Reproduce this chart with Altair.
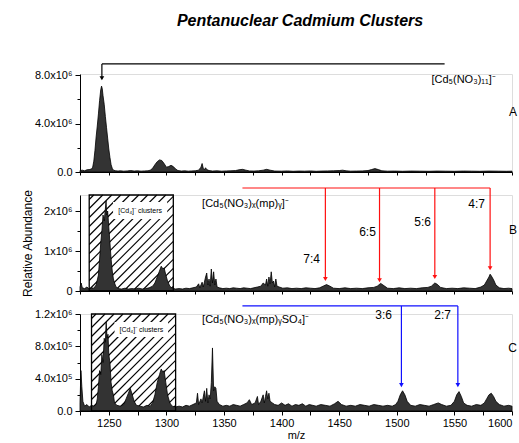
import altair as alt
import pandas as pd

# ---------------- data (intensities in units of 10^6) ----------------
A_MZ = [1225, 1227, 1229, 1231, 1233, 1235, 1236, 1237, 1238, 1239, 1240, 1241, 1242, 1243, 1243.7, 1244.3,
        1245, 1246, 1247, 1248, 1249, 1250, 1251, 1252, 1253, 1254, 1256, 1258, 1260, 1263, 1266, 1269, 1272,
        1275, 1278, 1281, 1284, 1286, 1288, 1290, 1292, 1294, 1296, 1298, 1300, 1302, 1304, 1306, 1308, 1310,
        1313, 1316, 1319, 1322, 1325, 1328, 1330, 1331, 1332, 1333, 1334, 1335, 1337, 1340, 1344, 1348, 1352,
        1356, 1360, 1363, 1366, 1369, 1372, 1376, 1380, 1384, 1387, 1390, 1394, 1400, 1405, 1410, 1415, 1420,
        1425, 1430, 1435, 1440, 1445, 1450, 1453, 1456, 1460, 1465, 1470, 1475, 1478, 1481, 1484, 1487, 1492,
        1498, 1505, 1512, 1520, 1528, 1535, 1542, 1550, 1558, 1565, 1572, 1580, 1588, 1595, 1600]
A_INT = [0.12, 0.15, 0.1, 0.18, 0.2, 0.25, 0.4, 0.9, 1.8, 2.9, 3.8, 4.8, 5.9, 6.8, 7.1, 6.9,
         6.3, 5.6, 4.6, 3.7, 2.8, 1.9, 1.2, 0.6, 0.3, 0.15, 0.1, 0.08, 0.1, 0.07, 0.09, 0.12, 0.08,
         0.1, 0.07, 0.09, 0.1, 0.15, 0.3, 0.6, 0.85, 1.0, 0.95, 0.7, 0.4, 0.45, 0.55, 0.45, 0.25, 0.12,
         0.08, 0.1, 0.07, 0.09, 0.1, 0.15, 0.4, 0.7, 0.3, 0.2, 0.35, 0.2, 0.12, 0.08, 0.1, 0.07, 0.09,
         0.1, 0.12, 0.18, 0.22, 0.15, 0.09, 0.08, 0.1, 0.15, 0.22, 0.15, 0.08, 0.07, 0.09, 0.06, 0.08, 0.07,
         0.09, 0.06, 0.08, 0.09, 0.1, 0.12, 0.15, 0.1, 0.07, 0.08, 0.09, 0.12, 0.2, 0.28, 0.2, 0.1, 0.07,
         0.08, 0.06, 0.08, 0.07, 0.06, 0.08, 0.07, 0.06, 0.08, 0.07, 0.06, 0.08, 0.07, 0.06, 0.07]

B_MZ = [1225, 1226, 1227, 1229, 1231, 1233, 1235, 1237, 1239, 1241, 1242, 1243, 1244, 1245, 1246, 1247,
        1247.6, 1248.2, 1249, 1250, 1251, 1252, 1253, 1254, 1255, 1256, 1258, 1261, 1264, 1267, 1270, 1273,
        1276, 1279, 1282, 1285, 1288, 1290, 1292, 1294, 1295.5, 1297, 1298, 1299.5, 1301, 1303, 1305, 1308,
        1311, 1314, 1317, 1320, 1323, 1326, 1328, 1329, 1331, 1332, 1334, 1335, 1336, 1337, 1338, 1339, 1340,
        1341, 1342, 1343, 1344, 1346, 1349, 1352, 1355, 1358, 1361, 1364, 1367, 1370, 1373, 1376, 1379, 1382,
        1384, 1386, 1387, 1388, 1389, 1390, 1391, 1392, 1393, 1394, 1395, 1396, 1398, 1401, 1405, 1409, 1413,
        1417, 1421, 1425, 1429, 1433, 1436, 1439, 1442, 1445, 1450, 1455, 1460, 1465, 1470, 1475, 1480, 1483,
        1486, 1489, 1492, 1497, 1502, 1507, 1512, 1517, 1522, 1527, 1530, 1533, 1535, 1538, 1543, 1548, 1553,
        1558, 1563, 1568, 1573, 1576, 1578, 1580, 1581, 1582, 1584, 1586, 1589, 1593, 1597, 1600]
B_INT = [0.1, 0.2, 0.08, 0.06, 0.1, 0.05, 0.08, 0.07, 0.15, 0.4, 0.8, 1.2, 1.5, 1.9, 1.75, 2.05,
         2.25, 1.9, 2.0, 1.6, 1.2, 0.8, 0.5, 0.3, 0.2, 0.12, 0.06, 0.05, 0.07, 0.05, 0.06, 0.05,
         0.07, 0.05, 0.06, 0.08, 0.12, 0.2, 0.35, 0.5, 0.62, 0.55, 0.58, 0.4, 0.25, 0.12, 0.07, 0.05,
         0.06, 0.05, 0.07, 0.06, 0.08, 0.1, 0.18, 0.08, 0.22, 0.1, 0.35, 0.45, 0.15, 0.3, 0.12, 0.55, 0.2,
         0.48, 0.15, 0.3, 0.1, 0.08, 0.06, 0.07, 0.06, 0.08, 0.07, 0.06, 0.08, 0.07, 0.06, 0.08, 0.1, 0.12,
         0.2, 0.15, 0.3, 0.12, 0.35, 0.18, 0.48, 0.2, 0.25, 0.1, 0.3, 0.12, 0.1, 0.07, 0.08, 0.06, 0.07,
         0.06, 0.08, 0.07, 0.06, 0.08, 0.12, 0.16, 0.12, 0.07, 0.06, 0.08, 0.06, 0.07, 0.06, 0.08, 0.09, 0.12,
         0.19, 0.13, 0.07, 0.06, 0.08, 0.06, 0.07, 0.06, 0.08, 0.09, 0.12, 0.2, 0.17, 0.09, 0.06, 0.07, 0.06,
         0.08, 0.07, 0.06, 0.1, 0.15, 0.25, 0.35, 0.42, 0.38, 0.28, 0.15, 0.08, 0.06, 0.07, 0.06]

C_MZ = [1225, 1225.8, 1226.6, 1227.5, 1229, 1231, 1233, 1235, 1237, 1239, 1240, 1241, 1242, 1243, 1244, 1245,
        1246, 1247, 1247.7, 1248.5, 1249.3, 1250, 1251, 1252, 1253, 1254, 1255, 1257, 1260, 1263, 1265, 1267,
        1268.6, 1270, 1272, 1274, 1277, 1280, 1283, 1286, 1288, 1290, 1292, 1294, 1295.5, 1297, 1298, 1299.5,
        1301, 1303, 1305, 1308, 1311, 1314, 1317, 1320, 1323, 1326, 1327, 1328, 1330, 1331, 1333, 1334, 1335,
        1336, 1337, 1338, 1339, 1340, 1341, 1342, 1343, 1344, 1346, 1349, 1352, 1355, 1358, 1361, 1364, 1367,
        1370, 1372, 1374, 1377, 1379, 1380, 1382, 1384, 1385, 1386, 1387, 1388, 1389, 1390, 1392, 1394, 1397,
        1400, 1403, 1406, 1409, 1412, 1415, 1418, 1421, 1424, 1427, 1430, 1434, 1438, 1442, 1446, 1449, 1452,
        1456, 1460, 1464, 1468, 1472, 1476, 1480, 1484, 1488, 1492, 1496, 1499, 1501, 1503, 1505, 1507, 1509,
        1512, 1516, 1520, 1524, 1528, 1532, 1536, 1539, 1543, 1547, 1550, 1552, 1554, 1556, 1558, 1561, 1565,
        1569, 1573, 1576, 1578, 1580, 1582, 1584, 1586, 1589, 1593, 1597, 1600]
C_INT = [0.1, 0.5, 0.3, 0.12, 0.06, 0.08, 0.05, 0.07, 0.06, 0.08, 0.15, 0.3, 0.5, 0.45, 0.7, 0.6,
         0.9, 0.85, 1.1, 0.9, 0.95, 0.7, 0.6, 0.35, 0.25, 0.2, 0.1, 0.07, 0.06, 0.08, 0.15, 0.22,
         0.28, 0.22, 0.12, 0.07, 0.06, 0.05, 0.07, 0.06, 0.1, 0.2, 0.35, 0.45, 0.52, 0.48, 0.5, 0.35,
         0.2, 0.1, 0.06, 0.05, 0.06, 0.05, 0.07, 0.06, 0.08, 0.1, 0.22, 0.08, 0.15, 0.1, 0.25, 0.12, 0.28,
         0.1, 0.2, 0.15, 0.35, 0.78, 0.25, 0.3, 0.28, 0.12, 0.08, 0.06, 0.07, 0.06, 0.08, 0.07, 0.06, 0.08,
         0.1, 0.14, 0.08, 0.1, 0.18, 0.08, 0.12, 0.2, 0.1, 0.18, 0.25, 0.15, 0.22, 0.12, 0.1, 0.08, 0.07,
         0.1, 0.07, 0.09, 0.06, 0.08, 0.07, 0.09, 0.06, 0.08, 0.07, 0.06, 0.08, 0.07, 0.06, 0.09, 0.12, 0.08,
         0.06, 0.07, 0.06, 0.08, 0.07, 0.06, 0.08, 0.07, 0.06, 0.07, 0.06, 0.08, 0.12, 0.2, 0.25, 0.2, 0.12,
         0.07, 0.06, 0.08, 0.07, 0.06, 0.08, 0.1, 0.08, 0.06, 0.07, 0.12, 0.2, 0.24, 0.18, 0.1, 0.07, 0.06,
         0.08, 0.07, 0.1, 0.15, 0.2, 0.22, 0.18, 0.12, 0.08, 0.06, 0.07, 0.06]

# annotation content
TITLE = "Pentanuclear Cadmium Clusters"
B_RATIOS = ["7:4", "6:5", "5:6", "4:7"]
B_RATIO_MZ = [1438, 1485, 1533, 1581]
B_ARROW_TIP = [0.3, 0.27, 0.35, 0.57]
C_RATIOS = ["3:6", "2:7"]
C_RATIO_MZ = [1504, 1553]
C_ARROW_TIP = [0.32, 0.32]

FONT = "Liberation Sans"
W = 432
X_DOMAIN = [1225, 1600]
H = {"A": 98, "B": 96, "C": 97}
Y_DOMAIN = {"A": [0, 8.1], "B": [0, 2.4], "C": [0, 1.2]}
Y_VALUES = {"A": [0, 2, 4, 6, 8], "B": [0, 0.5, 1, 1.5, 2], "C": [0, 0.2, 0.4, 0.6, 0.8, 1.0, 1.2]}
Y_LABELS = {
    "A": "datum.value == 8 ? '8.0x10⁶' : datum.value == 4 ? '4.0x10⁶' : datum.value == 0 ? '0.0' : ''",
    "B": "datum.value == 2 ? '2x10⁶' : datum.value == 1 ? '1x10⁶' : datum.value == 0 ? '0' : ''",
    "C": "datum.value == 1.2 ? '1.2x10⁶' : datum.value == 0.8 ? '8.0x10⁵' : datum.value == 0.4 ? '4.0x10⁵' : datum.value == 0 ? '0.0' : ''",
}
Y_MAJOR = {"A": "datum.value % 4 == 0", "B": "datum.value % 1 == 0", "C": "round(datum.value * 10) % 4 == 0"}


def xenc(field, panel):
    if panel == "C":
        ax = alt.Axis(values=list(range(1225, 1601, 25)),
                      labelExpr="datum.value % 50 == 0 ? format(datum.value, 'd') : ''",
                      title="m/z", titleFont=FONT, titleFontSize=11, titleFontWeight="normal",
                      titlePadding=1, labelFont=FONT, labelFontSize=11, labelPadding=2, labelFlush=True,
                      tickSize=4, domainColor="black", tickColor="black", grid=False, labelColor="black")
    else:
        ax = alt.Axis(values=list(range(1225, 1601, 25)), labels=False, title=None,
                      tickSize=3, domainColor="black", tickColor="black", grid=False)
    return alt.X(field, type="quantitative", scale=alt.Scale(domain=X_DOMAIN, nice=False, zero=False), axis=ax)


def yenc(field, panel):
    ax = alt.Axis(values=Y_VALUES[panel], labelExpr=Y_LABELS[panel], labelFont=FONT, labelFontSize=11,
                  labelColor="black", labelPadding=3, grid=False, domainColor="black", tickColor="black",
                  tickSize={"condition": {"test": Y_MAJOR[panel], "value": 5}, "value": 3},
                  title="Relative Abundance" if panel == "B" else None,
                  titleFont=FONT, titleFontSize=12, titleFontWeight="normal", titleX=-46)
    return alt.Y(field, type="quantitative", scale=alt.Scale(domain=Y_DOMAIN[panel], nice=False, zero=True), axis=ax)


def spectrum(mz, inten, panel):
    df = pd.DataFrame({"mz": mz, "v": inten})
    return alt.Chart(df).mark_area(fill="#333333", stroke="black", strokeWidth=0.8, interpolate="linear").encode(
        x=xenc("mz", panel), y=yenc("v", panel))


def hatch_layer(x1, x2, panel, step=9.0):
    sx = W / (X_DOMAIN[1] - X_DOMAIN[0])
    top = Y_DOMAIN[panel][1]
    sy = H[panel] / top
    X1 = (x1 - X_DOMAIN[0]) * sx
    X2 = (x2 - X_DOMAIN[0]) * sx
    Hp = top * sy
    rows = []
    c = X1 - Hp + step / 2
    while c < X2:
        lo = max(X1, c)
        hi = min(X2, c + Hp)
        if hi > lo:
            rows.append({"x": X_DOMAIN[0] + lo / sx, "y": (lo - c) / sy,
                         "x2": X_DOMAIN[0] + hi / sx, "y2": (hi - c) / sy})
        c += step
    df = pd.DataFrame(rows)
    rules = alt.Chart(df).mark_rule(color="black", strokeWidth=1.1).encode(
        x=xenc("x", panel), y=yenc("y", panel), x2="x2", y2="y2")
    box = alt.Chart(pd.DataFrame({"x": [x1], "x2": [x2], "y": [0], "y2": [top]})).mark_rect(
        fillOpacity=0, stroke="black", strokeWidth=1.3).encode(
        x=xenc("x", panel), x2="x2", y=yenc("y", panel), y2="y2")
    return rules, box


def box_label(x1, x2, y1, y2, panel):
    bg = alt.Chart(pd.DataFrame({"x": [x1], "x2": [x2], "y": [y1], "y2": [y2]})).mark_rect(
        fill="white").encode(x=xenc("x", panel), x2="x2", y=yenc("y", panel), y2="y2")
    tx = alt.Chart(pd.DataFrame({"x": [(x1 + x2) / 2], "y": [(y1 + y2) / 2], "t": ["[Cd₄]⁻ clusters"]})).mark_text(
        font=FONT, fontSize=7, color="black", align="center", baseline="middle").encode(
        x=xenc("x", panel), y=yenc("y", panel), text="t:N")
    return bg, tx


def text_layer(xs, ys, texts, panel, size=12, align="center", dx=0, weight="normal", style="normal"):
    df = pd.DataFrame({"x": xs, "y": ys, "t": texts})
    return alt.Chart(df).mark_text(font=FONT, fontSize=size, color="black", align=align,
                                   baseline="middle", dx=dx, fontWeight=weight, fontStyle=style).encode(
        x=xenc("x", panel), y=yenc("y", panel), text="t:N")


def bracket(panel, color, x_start, x_end, y_line, tips_x, tips_y):
    hline = alt.Chart(pd.DataFrame({"x": [x_start], "x2": [x_end], "y": [y_line]})).mark_rule(
        color=color, strokeWidth=1.2).encode(x=xenc("x", panel), x2="x2", y=yenc("y", panel))
    vdf = pd.DataFrame({"x": tips_x, "y": [y_line] * len(tips_x), "y2": tips_y})
    vlines = alt.Chart(vdf).mark_rule(color=color, strokeWidth=1.2).encode(
        x=xenc("x", panel), y=yenc("y", panel), y2="y2")
    heads = alt.Chart(pd.DataFrame({"x": tips_x, "y": tips_y})).mark_point(
        shape="triangle-down", filled=True, color=color, size=22, opacity=1).encode(
        x=xenc("x", panel), y=yenc("y", panel))
    return hline, vlines, heads


# ---------------- Panel A ----------------
a_layers = [spectrum(A_MZ, A_INT, "A")]
a_layers += list(bracket("A", "black", 1244, 1541.5, 8.93, [1244], [7.75]))
a_layers.append(text_layer([1558], [7.6], ["[Cd₅(NO₃)₁₁]⁻"], "A", size=11))
a_layers.append(text_layer([1600], [5.0], ["A"], "A", size=12, align="right", dx=5))
a_layers.append(text_layer([1416], [12.48], [TITLE], "A", size=16, weight="bold", style="italic"))
panelA = alt.layer(*a_layers).properties(width=W, height=H["A"])

# ---------------- Panel B ----------------
hB_rules, hB_box = hatch_layer(1233, 1306, "B")
bB_bg, bB_tx = box_label(1253.7, 1300.7, 1.8, 2.225, "B")
b_layers = [hB_rules, spectrum(B_MZ, B_INT, "B"), hB_box, bB_bg, bB_tx]
b_layers += list(bracket("B", "#ff1010", 1366, 1581, 2.575, B_RATIO_MZ, B_ARROW_TIP))
b_layers.append(text_layer([1426, 1474.6, 1522.4, 1569.3], [0.8, 1.475, 1.725, 2.175], B_RATIOS, "B", size=12))
b_layers.append(text_layer([1331], [2.175], ["[Cd₅(NO₃)ₓ(mp)ᵧ]⁻"], "B", size=11, align="left"))
b_layers.append(text_layer([1600], [1.52], ["B"], "B", size=12, align="right", dx=5))
panelB = alt.layer(*b_layers).properties(width=W, height=H["B"])

# ---------------- Panel C ----------------
hC_rules, hC_box = hatch_layer(1235, 1308, "C")
bC_bg, bC_tx = box_label(1255, 1301.5, 0.916, 1.10, "C")
c_layers = [hC_rules, spectrum(C_MZ, C_INT, "C"), hC_box, bC_bg, bC_tx]
c_layers += list(bracket("C", "#1010ff", 1366, 1553, 1.30, C_RATIO_MZ, C_ARROW_TIP))
c_layers.append(text_layer([1488.5, 1539.8], [1.19, 1.19], C_RATIOS, "C", size=12))
c_layers.append(text_layer([1331], [1.127], ["[Cd₅(NO₃)ₓ(mp)ᵧSO₄]⁻"], "C", size=11, align="left"))
c_layers.append(text_layer([1600], [0.78], ["C"], "C", size=12, align="right", dx=5))
panelC = alt.layer(*c_layers).properties(width=W, height=H["C"])

chart = alt.vconcat(panelA, panelB, panelC, spacing=23, bounds="flush").properties(
    padding={"left": 20, "top": 12, "right": 0, "bottom": 0},
).configure_view(stroke=None).configure(background="white")

chart.save("out.html", embed_options={"renderer": "svg", "actions": False})
